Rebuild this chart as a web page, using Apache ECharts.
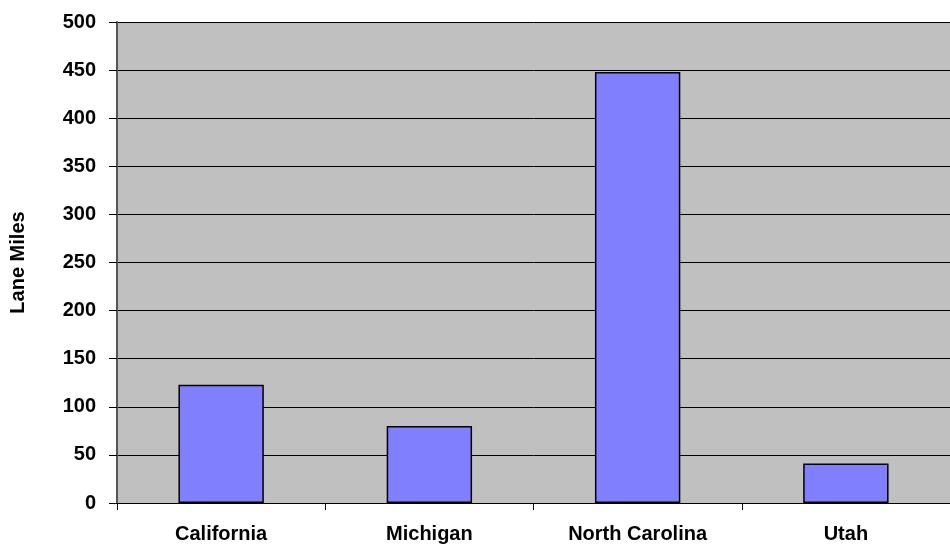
<!DOCTYPE html>
<html>
<head>
<meta charset="utf-8">
<script src="https://cdn.jsdelivr.net/npm/echarts@6/dist/echarts.min.js"></script>
<style>
  html, body { margin: 0; padding: 0; background: #fff; }
  #chart { width: 950px; height: 544px; }
</style>
</head>
<body>
<div id="chart"></div>
<script>
let states = ['California', 'Michigan', 'North Carolina', 'Utah'];
let laneMiles = [123, 80, 448, 41];

let chart = echarts.init(document.getElementById('chart'));

let font = '"Liberation Sans", Arial, sans-serif';

let option = {
    animation: false,
    grid: {
        left: 116,
        right: 0,
        top: 22,
        bottom: 40,
        backgroundColor: '#c0c0c0',
        show: true,
        borderWidth: 0
    },
    xAxis: {
        type: 'category',
        data: states,
        axisLine: { lineStyle: { color: '#000', width: 1 } },
        axisTick: { show: true, length: 7, lineStyle: { color: '#000' } },
        axisLabel: {
            margin: 21,
            fontFamily: font,
            fontWeight: 'bold',
            fontSize: 20,
            color: '#000'
        }
    },
    yAxis: {
        type: 'value',
        min: 0,
        max: 500,
        interval: 50,
        name: 'Lane Miles',
        nameLocation: 'middle',
        nameGap: 89,
        nameTextStyle: {
            fontFamily: font,
            fontWeight: 'bold',
            fontSize: 20,
            color: '#000'
        },
        axisLine: { show: true, lineStyle: { color: '#555', width: 2 } },
        axisTick: { show: true, length: 8, lineStyle: { color: '#000' } },
        axisLabel: {
            margin: 21,
            fontFamily: font,
            fontWeight: 'bold',
            fontSize: 20,
            color: '#000'
        },
        splitLine: { lineStyle: { color: '#000', width: 1 } }
    },
    series: [
        {
            type: 'bar',
            data: laneMiles,
            barWidth: '41%',
            itemStyle: {
                color: '#8080ff',
                borderColor: '#000',
                borderWidth: 1.5
            }
        }
    ]
};

chart.setOption(option);
</script>
</body>
</html>
